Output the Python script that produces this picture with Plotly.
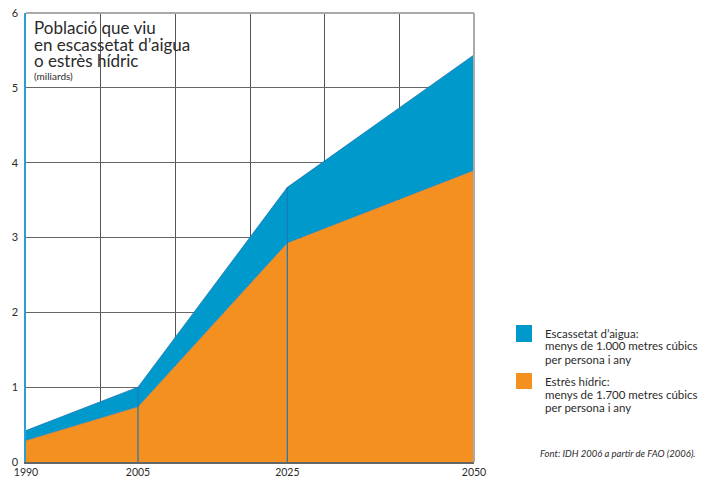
import plotly.graph_objects as go

years = [1990, 2005, 2025, 2050]
estres_hidric = [0.29, 0.74, 2.93, 3.90]      # orange: stress
total_afectada = [0.42, 1.00, 3.67, 5.44]     # top of blue: scarcity + stress
tick_years = ["1990", "2005", "2025", "2050"]
y_ticks = [0, 1, 2, 3, 4, 5, 6]

title_lines = ["Població que viu", "en escassetat d’aigua", "o estrès hídric"]
title_units = "(miliards)"
legend_blue = ["Escassetat d’aigua:", "menys de 1.000 metres cúbics", "per persona i any"]
legend_orange = ["Estrès hídric:", "menys de 1.700 metres cúbics", "per persona i any"]
source_text = "Font: IDH 2006 a partir de FAO (2006)."

BLUE = "#0099cb"
BLUE_LINE = "#1c77b8"
ORANGE = "#f39020"
FONT = "Lato"
TXT = "#2b2b2b"

FIG_W, FIG_H = 710, 479
L, R, T, B = 26, 474, 13, 462   # plot area in window pixels
W, H = R - L, B - T


def px(x):
    return (x - L) / W


def py(y):
    return (B - y) / H


fig = go.Figure()
fig.add_trace(go.Scatter(x=years, y=estres_hidric, mode="lines", fill="tozeroy",
                         fillcolor=ORANGE, line=dict(color=BLUE_LINE, width=0.6),
                         hoverinfo="skip", showlegend=False))
fig.add_trace(go.Scatter(x=years, y=total_afectada, mode="lines", fill="tonexty",
                         fillcolor=BLUE, line=dict(color=BLUE_LINE, width=0.8),
                         hoverinfo="skip", showlegend=False))
for i in (1, 2):
    fig.add_trace(go.Scatter(x=[years[i], years[i]], y=[0, total_afectada[i]], mode="lines",
                             line=dict(color=BLUE_LINE, width=1.2),
                             hoverinfo="skip", showlegend=False))

annotations = []
for k, line in enumerate(title_lines):
    annotations.append(dict(xref="paper", yref="paper", x=px(32), y=py(28 + 16 * k),
                            xanchor="left", yanchor="middle", showarrow=False,
                            text=line, font=dict(size=17, color=TXT, family=FONT)))
annotations.append(dict(xref="paper", yref="paper", x=px(32), y=py(76),
                        xanchor="left", yanchor="middle", showarrow=False,
                        text=title_units, font=dict(size=10, color=TXT, family=FONT)))
for block, y0 in ((legend_blue, 333), (legend_orange, 381)):
    for k, line in enumerate(block):
        annotations.append(dict(xref="paper", yref="paper", x=px(543), y=py(y0 + 13 * k),
                                xanchor="left", yanchor="middle", showarrow=False,
                                text=line, font=dict(size=11.5, color=TXT, family=FONT)))
annotations.append(dict(xref="paper", yref="paper", x=px(538), y=py(453),
                        xanchor="left", yanchor="middle", showarrow=False,
                        text="<i>" + source_text + "</i>",
                        font=dict(size=9.5, color=TXT, family=FONT)))

fig.update_layout(
    width=FIG_W, height=FIG_H,
    margin=dict(l=L, r=FIG_W - R, t=T, b=FIG_H - B, autoexpand=False),
    paper_bgcolor="white", plot_bgcolor="white",
    font=dict(family=FONT, color=TXT, size=11),
    xaxis=dict(range=[1990, 2050], tickvals=years, ticktext=tick_years, automargin=False,
               showgrid=False, zeroline=False, ticklabeloverflow="allow",
               showline=True, linecolor="#666666", linewidth=1.5,
               ticks="", ticklabelstandoff=0, tickfont=dict(size=10.5, color=TXT),
               minor=dict(tick0=1990, dtick=10, showgrid=True,
                          gridcolor="#555555", gridwidth=1)),
    yaxis=dict(range=[0, 6], tickvals=y_ticks, showgrid=True, automargin=False,
               gridcolor="#666666", gridwidth=1, zeroline=False, ticklabeloverflow="allow",
               showline=True, linecolor="#2a9fd6", linewidth=1.5,
               ticks="", ticklabelstandoff=4, tickfont=dict(size=11, color=TXT)),
    shapes=[
        dict(type="line", xref="paper", yref="paper", x0=0, x1=1, y0=1, y1=1,
             line=dict(color="#aaaaaa", width=2)),
        dict(type="line", xref="paper", yref="paper", x0=1, x1=1, y0=0, y1=1,
             line=dict(color="#aaaaaa", width=2)),
        dict(type="rect", xref="paper", yref="paper",
             x0=px(516), x1=px(532), y0=py(342), y1=py(325),
             fillcolor=BLUE, line=dict(width=0)),
        dict(type="rect", xref="paper", yref="paper",
             x0=px(516), x1=px(532), y0=py(389), y1=py(373),
             fillcolor=ORANGE, line=dict(width=0)),
    ],
    annotations=annotations,
)

fig.write_html("out.html", config={"displayModeBar": False},
               post_script="document.body.style.margin='0px';document.body.style.overflow='hidden';")
